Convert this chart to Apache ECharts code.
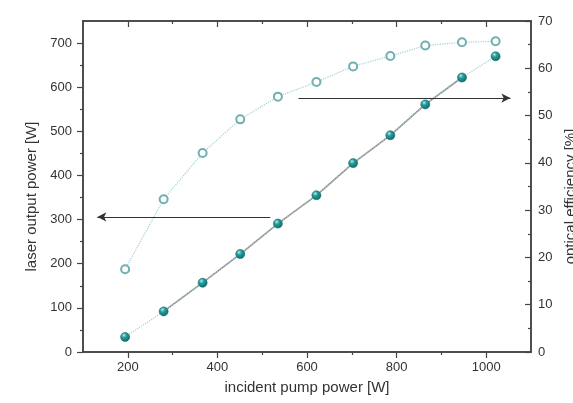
<!DOCTYPE html>
<html><head><meta charset="utf-8">
<script src="https://cdn.jsdelivr.net/npm/echarts@6/dist/echarts.min.js"></script>
<style>html,body{margin:0;padding:0;background:#fff}#c{width:573px;height:403px}</style>
</head><body><div id="c"></div>
<script>
const pumpPower = [194, 280, 367, 451, 535, 621, 703, 786, 864, 946, 1021];
const outputPower = [34, 92, 157, 222, 291, 355, 428, 491, 561, 622, 670];
const efficiency = [17.5, 32.3, 42.1, 49.2, 54.0, 57.1, 60.4, 62.6, 64.8, 65.5, 65.7];
const fitFrom = 1, fitTo = 9; // fit line spans these point indices
const xMajor = [200, 400, 600, 800, 1000];
const xMinor = [300, 500, 700, 900];
const yLeftMajor = [0, 100, 200, 300, 400, 500, 600, 700];
const yLeftMinor = [50, 150, 250, 350, 450, 550, 650];
const yRightMajor = [0, 10, 20, 30, 40, 50, 60, 70];
const yRightMinor = [5, 15, 25, 35, 45, 55, 65];
const arrowLeft = [[518, 306], [132, 306]];
const arrowRight = [[581, 53.7], [1054, 53.7]];

const FONT = 'Liberation Sans';
const axisColor = '#444';
const lineSty = {color: axisColor, width: 1.5};
const labelSty = {color: '#333', fontSize: 13, fontFamily: FONT, formatter: (v) => String(v)};

function xAx(pos, vals, len, inside, labels, extra) {
  return Object.assign({
    type: 'value', position: pos, min: 100, max: 1100, interval: 100,
    axisLine: {show: true, onZero: false, lineStyle: lineSty},
    axisTick: {show: true, inside: inside, length: len, customValues: vals, lineStyle: {color: axisColor, width: 1.2}},
    axisLabel: labels ? Object.assign({customValues: vals, margin: 9}, labelSty) : {show: false},
    splitLine: {show: false}
  }, extra || {});
}
function yAx(pos, max, interval, vals, len, inside, labels, extra) {
  return Object.assign({
    type: 'value', position: pos, min: 0, max: max, interval: interval,
    axisLine: {show: true, onZero: false, lineStyle: lineSty},
    axisTick: {show: true, inside: inside, length: len, customValues: vals, lineStyle: {color: axisColor, width: 1.2}},
    axisLabel: labels ? Object.assign({customValues: vals, margin: pos === 'left' ? 11 : 7}, labelSty) : {show: false},
    splitLine: {show: false}
  }, extra || {});
}

const pts = (ys) => pumpPower.map((x, i) => [x, ys[i]]);
const fitData = pumpPower.slice(fitFrom, fitTo + 1).map((x, i) => [x, outputPower[fitFrom + i]]);

const filledColor = {
  type: 'radial', x: 0.38, y: 0.32, r: 0.7,
  colorStops: [{offset: 0, color: '#b8eeee'}, {offset: 0.35, color: '#2a9c9c'}, {offset: 1, color: '#0a6b6b'}]
};

const chart = echarts.init(document.getElementById('c'), null, {renderer: 'canvas'});
chart.setOption({
  animation: false,
  grid: {left: 83, right: 42, top: 21, bottom: 51, containLabel: false, outerBoundsMode: 'none'},
  xAxis: [
    xAx('bottom', xMajor, 6, false, true, {
      name: 'incident pump power [W]', nameLocation: 'middle', nameGap: 28,
      nameTextStyle: {color: '#333', fontSize: 15, fontFamily: FONT}
    }),
    xAx('bottom', xMinor, 3, false, false),
    xAx('top', xMajor, 6, true, false),
    xAx('top', xMinor, 3, true, false)
  ],
  yAxis: [
    yAx('left', 750, 50, yLeftMajor, 6, false, true, {
      name: 'laser output power [W]', nameLocation: 'middle', nameGap: 43,
      nameTextStyle: {color: '#333', fontSize: 15, fontFamily: FONT, padding: [0, 20, 0, 0]}
    }),
    yAx('left', 750, 50, yLeftMinor, 3, false, false),
    yAx('right', 70, 5, yRightMajor, 6, true, true, {
      name: 'optical efficiency [%]', nameLocation: 'middle', nameGap: 31, nameRotate: 90,
      nameTextStyle: {color: '#333', fontSize: 15, fontFamily: FONT, padding: [0, 20, 0, 0]}
    }),
    yAx('right', 70, 5, yRightMinor, 3, true, false)
  ],
  series: [
    {
      type: 'line', name: 'efficiency', xAxisIndex: 0, yAxisIndex: 2, data: pts(efficiency),
      symbol: 'emptyCircle', symbolSize: 8, z: 3,
      itemStyle: {color: '#6fb0b0', borderWidth: 1.5},
      lineStyle: {type: 'dotted', color: '#a6cfcf', width: 1.2},
      markLine: {
        silent: true, symbol: ['none', 'arrow'], symbolSize: [7, 9],
        label: {show: false},
        lineStyle: {color: '#333', width: 1, type: 'solid'},
        data: [[{coord: arrowRight[0]}, {coord: arrowRight[1]}]]
      }
    },
    {
      type: 'line', name: 'fit', xAxisIndex: 0, yAxisIndex: 0, data: fitData,
      symbol: 'none', z: 2,
      lineStyle: {color: '#8c8c8c', width: 1.6},
      markLine: {
        silent: true, symbol: ['none', 'arrow'], symbolSize: [7, 9],
        label: {show: false},
        lineStyle: {color: '#333', width: 1, type: 'solid'},
        data: [[{coord: arrowLeft[0]}, {coord: arrowLeft[1]}]]
      }
    },
    {
      type: 'line', name: 'output', xAxisIndex: 0, yAxisIndex: 0, data: pts(outputPower),
      symbol: 'circle', symbolSize: 9, z: 4,
      itemStyle: {color: filledColor, borderColor: '#0b6666', borderWidth: 0.6},
      lineStyle: {type: 'dotted', color: '#a6cfcf', width: 1.2}
    }
  ]
});
</script></body></html>
